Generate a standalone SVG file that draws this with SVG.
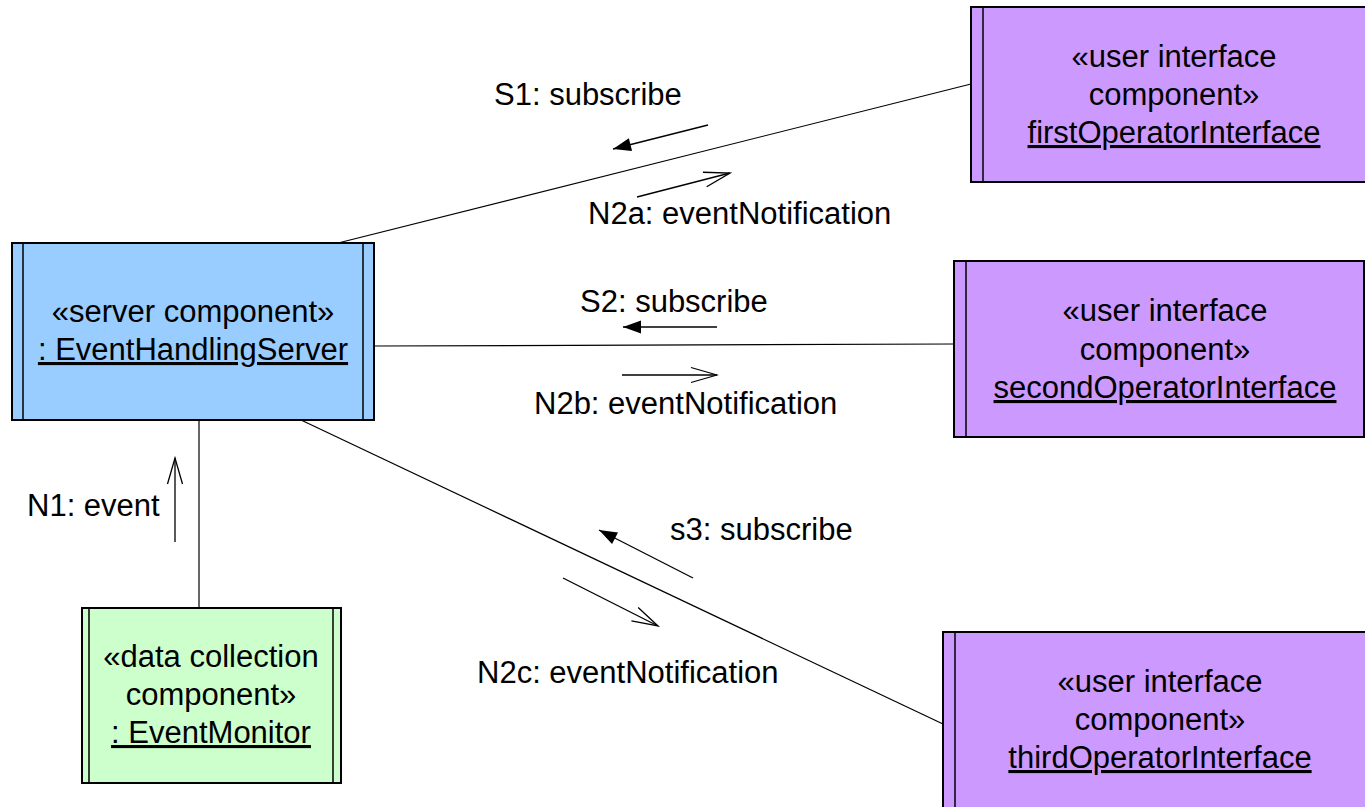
<svg xmlns="http://www.w3.org/2000/svg" width="1365" height="807" viewBox="0 0 1365 807">
  <style>
    text { font-family: "Liberation Sans", Arial, sans-serif; font-size: 31px; fill: #000; }
    .c { text-anchor: middle; }
    .u { text-decoration: underline; }
    .box { stroke: #000; stroke-width: 2; }
    .bar { stroke: #000; stroke-width: 1.5; fill: none; }
    .link { stroke: #000; stroke-width: 1.2; fill: none; }
    .msg { stroke: #000; stroke-width: 1.3; fill: none; }
    .server { fill: #99CCFF; }
    .ui { fill: #CC99FF; }
    .data { fill: #CCFFCC; }
  </style>
  <defs>
    <marker id="open" markerUnits="userSpaceOnUse" viewBox="-30 -12 32 24" markerWidth="32" markerHeight="24" refX="0" refY="0" orient="auto">
      <path d="M-26,-7.5 L0,0 L-26,7.5" fill="none" stroke="#000" stroke-width="1.3"/>
    </marker>
    <marker id="solid" markerUnits="userSpaceOnUse" viewBox="-20 -10 22 20" markerWidth="22" markerHeight="20" refX="0" refY="0" orient="auto">
      <path d="M-18,-6.5 L0,0 L-18,6.5 Z" fill="#000"/>
    </marker>
  </defs>

  <!-- links between components -->
  <g id="connectors">
    <line class="link" x1="338" y1="243" x2="971" y2="84"/>
    <line class="link" x1="374" y1="346" x2="954" y2="344"/>
    <line class="link" x1="301" y1="420" x2="943" y2="724"/>
    <line class="link" x1="199" y1="420" x2="199" y2="608" stroke="#444" stroke-width="1.6"/>

    <!-- message arrows -->
    <line class="msg" x1="708" y1="125" x2="613" y2="149" marker-end="url(#solid)"/>
    <line class="msg" x1="637" y1="197" x2="730" y2="173" marker-end="url(#open)"/>
    <line class="msg" x1="717" y1="327" x2="623" y2="327" marker-end="url(#solid)"/>
    <line class="msg" x1="622" y1="375" x2="717" y2="375" marker-end="url(#open)"/>
    <line class="msg" x1="693" y1="578" x2="599" y2="530" marker-end="url(#solid)"/>
    <line class="msg" x1="563" y1="578" x2="658" y2="626" marker-end="url(#open)"/>
    <line class="msg" x1="175" y1="542" x2="175" y2="458" marker-end="url(#open)"/>

    <!-- message labels -->
    <text x="494" y="105">S1: subscribe</text>
    <text x="588" y="224">N2a: eventNotification</text>
    <text x="580" y="312">S2: subscribe</text>
    <text x="534" y="414">N2b: eventNotification</text>
    <text x="670" y="540">s3: subscribe</text>
    <text x="477" y="683">N2c: eventNotification</text>
    <text x="27" y="516">N1: event</text>
  </g>

  <g id="eventHandlingServer">
    <rect class="box server" x="12" y="243" width="362" height="177"/>
    <line class="bar" x1="23" y1="243" x2="23" y2="420"/>
    <line class="bar" x1="363" y1="243" x2="363" y2="420"/>
    <text class="c" x="193" y="322">«server component»</text>
    <text class="c u" x="193" y="360">: EventHandlingServer</text>
  </g>

  <g id="eventMonitor">
    <rect class="box data" x="82" y="608" width="259" height="175"/>
    <line class="bar" x1="89" y1="608" x2="89" y2="783"/>
    <line class="bar" x1="333" y1="608" x2="333" y2="783"/>
    <text class="c" x="211" y="667">«data collection</text>
    <text class="c" x="211" y="705">component»</text>
    <text class="c u" x="211" y="743">: EventMonitor</text>
  </g>

  <g id="firstOperatorInterface">
    <rect class="box ui" x="971" y="7" width="410" height="175"/>
    <line class="bar" x1="983" y1="7" x2="983" y2="182"/>
    <text class="c" x="1174" y="67">«user interface</text>
    <text class="c" x="1174" y="105">component»</text>
    <text class="c u" x="1174" y="143">firstOperatorInterface</text>
  </g>

  <g id="secondOperatorInterface">
    <rect class="box ui" x="954" y="261" width="410" height="176"/>
    <line class="bar" x1="966" y1="261" x2="966" y2="437"/>
    <text class="c" x="1165" y="321">«user interface</text>
    <text class="c" x="1165" y="360">component»</text>
    <text class="c u" x="1165" y="398">secondOperatorInterface</text>
  </g>

  <g id="thirdOperatorInterface">
    <rect class="box ui" x="943" y="632" width="440" height="200"/>
    <line class="bar" x1="955" y1="632" x2="955" y2="832"/>
    <text class="c" x="1160" y="692">«user interface</text>
    <text class="c" x="1160" y="730">component»</text>
    <text class="c u" x="1160" y="768">thirdOperatorInterface</text>
  </g>
</svg>
